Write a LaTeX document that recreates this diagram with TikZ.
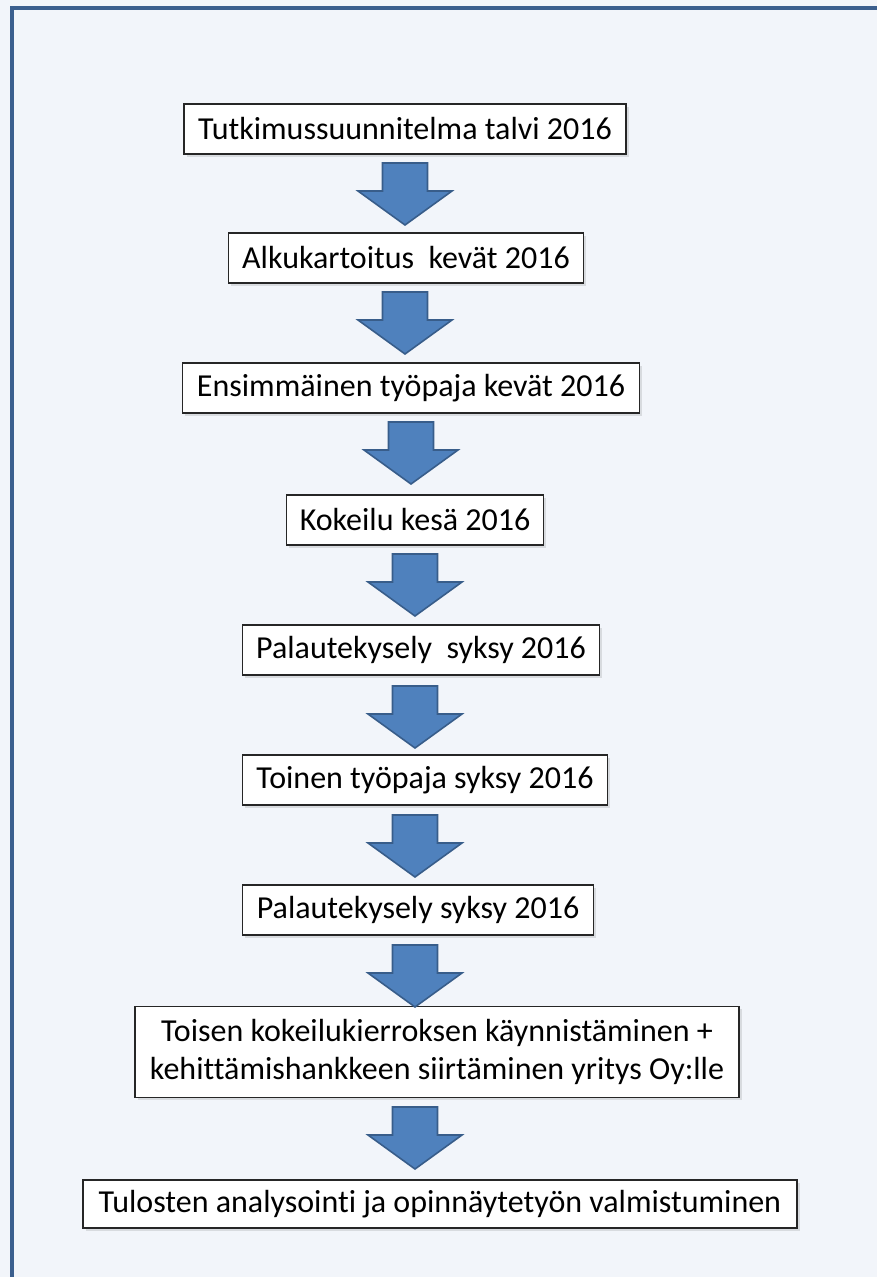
\documentclass[tikz,border=0pt]{standalone}
\usepackage{fontspec}
\setmainfont[Ligatures=NoCommon]{Carlito}
\usetikzlibrary{shadows}
\definecolor{bgcol}{HTML}{F2F5FA}
\definecolor{framecol}{HTML}{3B5F8E}
\definecolor{arrowfill}{HTML}{4F81BD}
\definecolor{arrowline}{HTML}{385D8A}
\tikzset{
  stepbox/.style={draw=black!85, line width=1.3pt, fill=white, inner sep=0pt,
    minimum height=50pt, align=center,
    font=\fontsize{32}{38}\selectfont,
    drop shadow={opacity=0.22, shadow xshift=2.5pt, shadow yshift=-2.5pt}},
  downarrow/.pic={
    \draw[draw=arrowline, line width=1.6pt, fill=arrowfill]
      (-22.5,-31) -- (22.5,-31) -- (22.5,-3) -- (47,-3) -- (0,31)
      -- (-47,-3) -- (-22.5,-3) -- cycle;
  }
}
\begin{document}
\begin{tikzpicture}[x=1pt,y=-1pt]
\useasboundingbox (0,0) rectangle (877,1277);
\fill[bgcol] (0,0) rectangle (877,1277);
\draw[framecol, line width=4pt] (12,1277) -- (12,8) -- (877,8);

\node[stepbox, minimum width=442pt] (b1) at (405,129) {Tutkimussuunnitelma talvi 2016};
\node[stepbox, minimum width=355pt] (b2) at (406,258) {Alkukartoitus\ \ kevät 2016};
\node[stepbox, minimum width=457pt] (b3) at (411,388) {Ensimmäinen työpaja kevät 2016};
\node[stepbox, minimum width=257pt] (b4) at (415,520) {Kokeilu kesä 2016};
\node[stepbox, minimum width=357pt] (b5) at (421,650) {Palautekysely\ \ syksy 2016};
\node[stepbox, minimum width=365pt] (b6) at (425,780) {Toinen työpaja syksy 2016};
\node[stepbox, minimum width=351pt] (b7) at (418,910) {Palautekysely syksy 2016};
\node[stepbox, minimum width=604pt, minimum height=91pt] (b8) at (437,1052) {Toisen kokeilukierroksen käynnistäminen +\\kehittämishankkeen siirtäminen yritys Oy:lle};
\node[stepbox, minimum width=714pt, minimum height=48pt] (b9) at (440,1204) {Tulosten analysointi ja opinnäytetyön valmistuminen};

\coordinate (a1) at (405,194);
\coordinate (a2) at (405,323);
\coordinate (a3) at (411,453);
\coordinate (a4) at (415,585);
\coordinate (a5) at (415,717);
\coordinate (a6) at (415,846);
\coordinate (a7) at (415,976);
\coordinate (a8) at (415,1138);
\foreach \a in {a1,a2,a3,a4,a5,a6,a7,a8} \pic at (\a) {downarrow};
\end{tikzpicture}
\end{document}
